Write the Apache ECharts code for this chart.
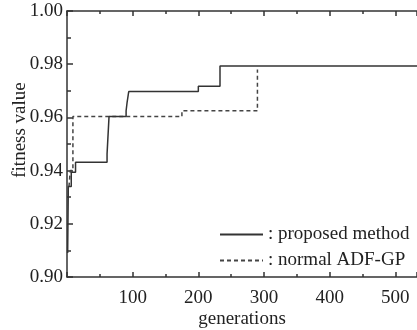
<!DOCTYPE html>
<html>
<head>
<meta charset="utf-8">
<script src="https://cdn.jsdelivr.net/npm/echarts@6/dist/echarts.min.js"></script>
<style>
  html, body { margin: 0; padding: 0; background: #fff; }
  #chart { width: 417px; height: 330px; }
</style>
</head>
<body>
<div id="chart"></div>
<script>
// generation at which each fitness value starts (step plot)
const proposedGens = [1, 2, 6.5, 13, 61, 64, 90, 91.5, 94, 200, 233, 540];
const proposedVals = [0.909, 0.934, 0.9394, 0.9431, 0.9463, 0.9603, 0.9625, 0.9656, 0.9697, 0.9717, 0.9793, 0.9793];
const normalGens = [3, 5, 9, 175, 290];
const normalVals = [0.934, 0.94, 0.9603, 0.9625, 0.978];
const seriesNames = ["proposed method", "normal ADF-GP"];

const font = "Liberation Serif";
const ink = "#222";

const chart = echarts.init(document.getElementById("chart"));

const pairs = (xs, ys) => xs.map((x, i) => [x, ys[i]]);

const xBase = {
  type: "value",
  min: 0,
  max: 533,
  interval: 100,
  minorTick: { show: true, splitNumber: 2, length: 3, lineStyle: { color: "#333", width: 1.5 } },
  axisTick: { inside: true, length: 5, lineStyle: { color: "#333", width: 1.5 } },
  axisLine: { onZero: false, lineStyle: { color: "#333", width: 1.5 } },
  splitLine: { show: false },
};

chart.setOption({
  animation: false,
  textStyle: { fontFamily: font },
  grid: { left: 67, right: 0, top: 11, bottom: 53, containLabel: false, outerBoundsMode: "none" },
  legend: {
    orient: "vertical",
    left: 214,
    top: 220,
    itemWidth: 43,
    itemHeight: 20,
    itemGap: 7,
    itemStyle: { opacity: 0 },
    formatter: (name) => ": " + name,
    textStyle: { fontFamily: font, fontSize: 19, color: ink },
    data: seriesNames,
  },
  xAxis: [
    Object.assign({}, xBase, {
      position: "bottom",
      name: "generations",
      nameLocation: "middle",
      nameGap: 33,
      nameMoveOverlap: false,
      nameTextStyle: { fontFamily: font, fontSize: 19, color: ink },
      axisLabel: {
        showMinLabel: false,
        showMaxLabel: false,
        margin: 12,
        fontFamily: font,
        fontSize: 19,
        color: ink,
      },
    }),
    Object.assign({}, xBase, {
      position: "top",
      axisLabel: { show: false },
    }),
  ],
  yAxis: {
    type: "value",
    min: 0.9,
    max: 1.0,
    interval: 0.02,
    name: "fitness value",
    nameLocation: "middle",
    nameGap: 37,
    nameMoveOverlap: false,
    nameTextStyle: { fontFamily: font, fontSize: 19, color: ink, padding: [0, 0, 0, 28] },
    axisLine: { show: true, lineStyle: { color: "#333", width: 1.5 } },
    axisTick: { show: true, inside: true, length: 6, lineStyle: { color: "#333", width: 1.5 } },
    minorTick: { show: true, splitNumber: 2, length: 4, lineStyle: { color: "#333", width: 1.5 } },
    splitLine: { show: false },
    axisLabel: {
      margin: 4,
      fontFamily: font,
      fontSize: 19,
      color: ink,
      formatter: (v) => v.toFixed(2),
    },
  },
  series: [
    {
      name: seriesNames[0],
      type: "line",
      step: "end",
      symbol: "none",
      data: pairs(proposedGens, proposedVals),
      lineStyle: { color: "#333", width: 1.5, type: "solid" },
      itemStyle: { color: "#333" },
      z: 3,
    },
    {
      name: seriesNames[1],
      type: "line",
      step: "end",
      symbol: "none",
      data: pairs(normalGens, normalVals),
      lineStyle: { color: "#444", width: 1.5, type: [4, 3] },
      itemStyle: { color: "#444" },
      z: 2,
    },
  ],
});
</script>
</body>
</html>
